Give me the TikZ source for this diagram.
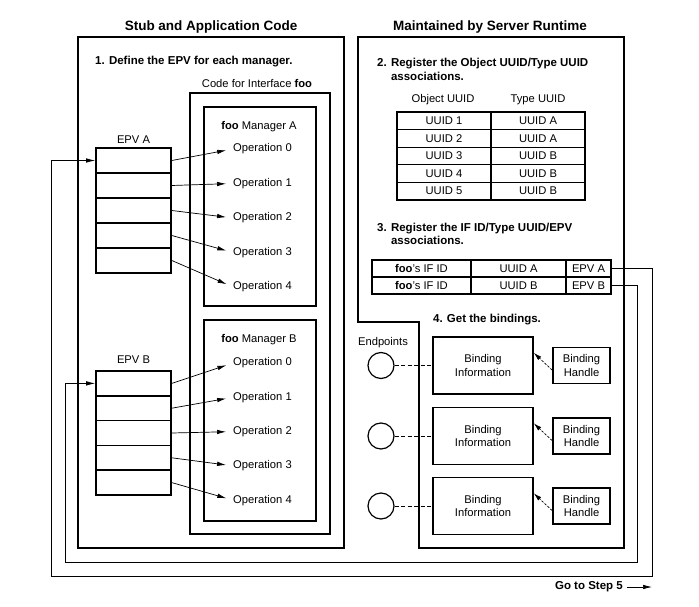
\documentclass[tikz,border=0pt]{standalone}
\usepackage{fontspec}
\setmainfont{Liberation Sans}
\usetikzlibrary{arrows.meta,calc}
\newcommand\regf{\fontsize{11.2}{13.6}\selectfont}
\newcommand\stpf{\fontsize{11.5}{13.6}\selectfont\bfseries}
\newcommand\ttlf{\fontsize{13.5}{16}\selectfont\bfseries}
\begin{document}
\begin{tikzpicture}[x=1pt,y=-1pt,
  bx/.style={draw, line width=1.6pt, inner sep=0pt},
  cell/.style={draw, line width=1.6pt, inner sep=0pt, minimum width=75pt},
  tcell/.style={draw, line width=1.3pt, inner sep=0pt, font=\regf},
  lbl/.style={font=\regf, inner sep=0pt},
  ttl/.style={font=\ttlf, inner sep=0pt},
  stp/.style={font=\stpf, align=left, anchor=west, inner sep=0pt},
  conn/.style={line width=0.7pt, -{Latex[length=9pt,width=4.5pt]}},
  wire/.style={line width=0.7pt},
  dline/.style={line width=0.7pt, dash pattern=on 4pt off 2.5pt},
  darrow/.style={line width=0.7pt, dash pattern=on 2.5pt off 1.5pt, -{Latex[length=8pt,width=4.5pt]}},
  ring/.style={circle, draw, line width=1.2pt, minimum size=26pt, inner sep=0pt}
]
\useasboundingbox (0,0) rectangle (699,607);

% titles
\node[ttl] (t1) at (211,27) {Stub and Application Code};
\node[ttl] (t2) at (490,27) {Maintained by Server Runtime};

% left frame
\node[bx, minimum width=266pt, minimum height=511pt] (left) at (211,292.5) {};
% right frame
\draw[line width=1.6pt] (358,37) -- (624,37) -- (624,548) -- (419,548) -- (419,322) -- (358,322) -- cycle;

\node[stp] (s1) at (95,62) {1. Define the EPV for each manager.};
\node[lbl] (cfi) at (257,83) {Code for Interface \textbf{foo}};
\node[bx, minimum width=140pt, minimum height=441pt] (code) at (260,313.5) {};
\node[bx, minimum width=112pt, minimum height=199pt] (mA) at (260,206.5) {};
\node[bx, minimum width=112pt, minimum height=201pt] (mB) at (260,420.5) {};
\node[lbl] (mAl) at (259,127) {\textbf{foo} Manager A};
\node[lbl] (mBl) at (259,340) {\textbf{foo} Manager B};

\node[lbl] (eAl) at (133.5,140) {EPV A};
\node[lbl] (eBl) at (133.5,360) {EPV B};

\foreach \i in {0,...,4} {
  \node[cell, minimum height=25pt] (epvA\i) at (133.5,{160.5+25*\i}) {};
  \node[cell, minimum height=24.8pt] (epvB\i) at (133.5,{383.4+24.8*\i}) {};
  \node[lbl] (opA\i) at (262.5,{149+34.5*\i}) {Operation \i};
  \node[lbl] (opB\i) at (262.5,{363+34.3*\i}) {Operation \i};
}
\foreach \i in {0,...,4} {
  \draw[conn, shorten >=7pt] (epvA\i.east) -- (opA\i.west);
  \draw[conn, shorten >=7pt] (epvB\i.east) -- (opB\i.west);
}

% step 2
\node[stp] (s2) at (377,69.5) {2. Register the Object UUID/Type UUID\\\phantom{2. }associations.};
\node[lbl] (h1) at (443,100) {Object UUID};
\node[lbl] (h2) at (538,100) {Type UUID};
\foreach \i/\a/\b in {0/1/A,1/2/A,2/3/B,3/4/B,4/5/B} {
  \node[tcell, minimum width=94pt, minimum height=17.6pt] (ta\i) at (444,{120.8+17.6*\i}) {UUID \a};
  \node[tcell, minimum width=94pt, minimum height=17.6pt] (tb\i) at (538,{120.8+17.6*\i}) {UUID \b};
}

% step 3
\node[stp] (s3) at (377,234) {3. Register the IF ID/Type UUID/EPV\\\phantom{3. }associations.};
\node[tcell, minimum width=99pt, minimum height=17pt] (ra1) at (421.5,268.5) {\textbf{foo}'s IF ID};
\node[tcell, minimum width=95pt, minimum height=17pt] (ra2) at (518.5,268.5) {UUID A};
\node[tcell, minimum width=45pt, minimum height=17pt] (ra3) at (588.5,268.5) {EPV A};
\node[tcell, minimum width=99pt, minimum height=17pt] (rb1) at (421.5,285.5) {\textbf{foo}'s IF ID};
\node[tcell, minimum width=95pt, minimum height=17pt] (rb2) at (518.5,285.5) {UUID B};
\node[tcell, minimum width=45pt, minimum height=17pt] (rb3) at (588.5,285.5) {EPV B};

% step 4
\node[font=\stpf, inner sep=0pt] (s4) at (487,320) {4. Get the bindings.};
\node[lbl] (epl) at (383,343) {Endpoints};
\foreach \i/\y in {1/365.5,2/436,3/506} {
  \node[ring] (ep\i) at (381,\y) {};
  \node[bx, minimum width=100pt, minimum height=57pt, font=\regf, align=center] (bi\i) at (483,\y) {Binding\\Information};
  \node[bx, minimum width=57pt, minimum height=36pt, font=\regf, align=center] (bh\i) at (581.5,\y) {Binding\\Handle};
  \draw[dline] (ep\i.east) -- (bi\i.west);
  \draw[darrow] (bh\i.189) -- (bi\i.14);
}

% loops back to EPVs
\coordinate (raR) at (652,576);
\coordinate (raL) at (51,576);
\coordinate (rbR) at (637,562);
\coordinate (rbL) at (65,562);
\draw[conn] (ra3.east) -| (raR) -- (raL) |- (epvA0.west);
\draw[conn] (rb3.east) -| (rbR) -- (rbL) |- (epvB0.west);

% go to step 5
\node[font=\stpf, anchor=east, inner sep=0pt] (go) at (623,587) {Go to Step 5};
\coordinate (goend) at (652,587);
\draw[conn, shorten <=4pt] (go.east) -- (goend);
\end{tikzpicture}
\end{document}
